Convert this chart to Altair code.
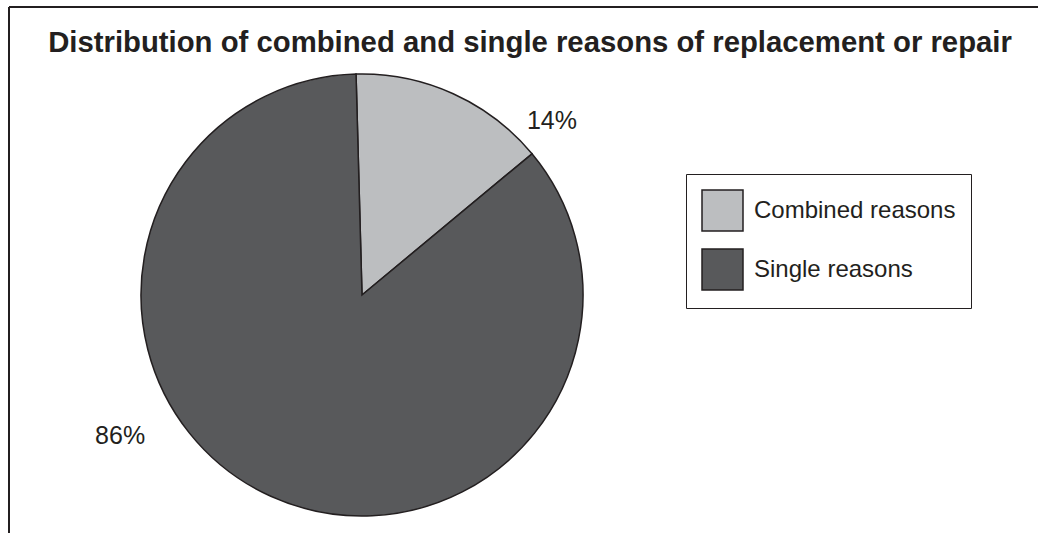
import math
import altair as alt
import pandas as pd

# ---- data ----
categories = ["Combined reasons", "Single reasons"]
values = [14.4, 85.6]
labels = ["14%", "86%"]
colors = ["#bcbec0", "#58595b"]
title_text = "Distribution of combined and single reasons of replacement or repair"

FONT = "Liberation Sans"
INK = "#231f20"

df = pd.DataFrame({
    "reason": categories,
    "value": values,
    "label": labels,
    "order": list(range(len(categories))),
})

start = -0.027
theta_scale = alt.Scale(domain=[0, 100], range=[start, start + 2 * math.pi])

CX, CY, R = 362, 295, 221

pie = alt.Chart(df).mark_arc(
    outerRadius=R, stroke=INK, strokeWidth=1.5
).encode(
    x=alt.value(CX),
    y=alt.value(CY),
    theta=alt.Theta("value:Q", stack=True, scale=theta_scale),
    color=alt.Color(
        "reason:N",
        scale=alt.Scale(domain=categories, range=colors),
        legend=alt.Legend(
            title=None,
            orient="none",
            legendX=686,
            legendY=174,
            symbolType="square",
            symbolSize=1681,
            symbolStrokeColor=INK,
            symbolStrokeWidth=1.5,
            labelFontSize=24,
            labelFont=FONT,
            labelColor=INK,
            labelLimit=400,
            labelOffset=10,
            rowPadding=12,
            padding=15,
            strokeColor=INK,
        ),
    ),
    order=alt.Order("order:Q"),
)

lab_base = alt.Chart(df).transform_window(
    cum="sum(value)", sort=[alt.SortField("order")]
).transform_calculate(mid="datum.cum - datum.value / 2")


def label_layer(idx, dx, dy):
    return lab_base.transform_filter(f"datum.order == {idx}").mark_text(
        radius=R, dx=dx, dy=dy, fontSize=25, font=FONT, color=INK,
        align="center", baseline="middle",
    ).encode(
        x=alt.value(CX),
        y=alt.value(CY),
        theta=alt.Theta("mid:Q", stack=False, scale=theta_scale),
        text="label:N",
    )


lab0 = label_layer(0, 98.7, 27.3)
lab1 = label_layer(1, -150.7, -60.3)

title = alt.Chart(pd.DataFrame({"t": [title_text]})).mark_text(
    fontSize=29.3, fontWeight="bold", font=FONT, color=INK,
    align="center", baseline="alphabetic",
).encode(x=alt.value(530), y=alt.value(52), text="t:N")

one = pd.DataFrame({"k": [0]})
frame_top = alt.Chart(one).mark_rule(color=INK, strokeWidth=2).encode(
    x=alt.value(9), x2=alt.value(1038), y=alt.value(7)
)
frame_left = alt.Chart(one).mark_rule(color=INK, strokeWidth=2).encode(
    x=alt.value(9), y=alt.value(7), y2=alt.value(533)
)

chart = alt.layer(frame_top, frame_left, pie, lab0, lab1, title).properties(
    width=1038,
    height=533,
    padding=0,
    autosize=alt.AutoSizeParams(type="none"),
).configure_view(strokeWidth=0)

chart.save("out.html", embed_options={"renderer": "svg", "actions": False})
